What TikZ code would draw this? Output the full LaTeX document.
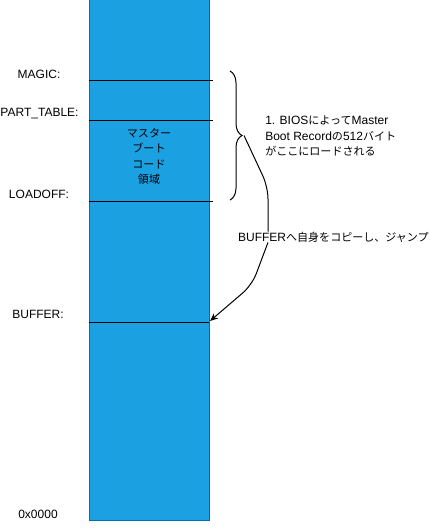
\documentclass[tikz,border=0pt]{standalone}
\usepackage{fontspec}
\setmainfont{Liberation Sans}
\newfontfamily\cjk[Scale=0.92]{Noto Sans CJK JP}
\newcommand{\ja}[1]{{\cjk #1}}
\usetikzlibrary{arrows.meta,decorations.pathreplacing}
\definecolor{mfill}{HTML}{1BA1E2}
\definecolor{mline}{HTML}{006EAF}

\begin{document}
\begin{tikzpicture}[
  x=0.75pt, y=-0.75pt,
  memory/.style={
    draw=mline,
    fill=mfill,
    line width=0.75pt,
    minimum width=90pt,
    minimum height=390pt,
    inner sep=0pt
  },
  addr/.style={font=\fontsize{9}{11}\selectfont, inner sep=0pt},
  boundary/.style={draw=black, line width=0.75pt},
  note/.style={font=\fontsize{9}{11.4}\selectfont, align=left, inner sep=0pt},
  flow/.style={draw=black, line width=0.75pt, rounded corners=9pt}
]
\useasboundingbox (0,0) rectangle (430,531);

% memory map
\node[memory] (mem) at (149,260) {};
\foreach \y/\xe in {81/213, 121/213, 201/213, 322/209}
  \draw[boundary] (89,\y) -- (\xe,\y);

\node[addr] (magic) at (39,74) {MAGIC:};
\node[addr] (parttable) at (39.5,114) {PART\_TABLE:};
\node[addr] (loadoff) at (39,194) {LOADOFF:};
\node[addr] (buffer) at (38,314) {BUFFER:};
\node[addr] (origin) at (38,514) {0x0000};

\node[note, align=center, font=\cjk\fontsize{9}{11.6}\selectfont] (mbr) at (149,156.5) {
  マスター\\ブート\\コード\\領域
};

% loaded region
\draw[decorate, decoration={brace, amplitude=9pt}, line width=0.75pt]
  (230,71) -- (230,200);
\coordinate (bracetip) at (244,135.5);

\node[note, anchor=west] (bios) at (265,136) {
  1. BIOS\ja{によって}Master\\
  Boot Record\ja{の}512\ja{バイト}\\
  \ja{がここにロードされる}
};

% copy and jump
\node[addr, anchor=east] (copy) at (429,237) {BUFFER\ja{へ自身をコピーし、ジャンプ}};
\coordinate (bend1) at (268,187);
\coordinate (bend2) at (252,285);
\coordinate (bufend) at (210,321);

\draw[flow] (bracetip) -- (bend1) -- (bend1 |- copy.north);
\draw[flow, -{Stealth[length=6pt, width=5pt]}]
  (bend1 |- copy.south) -- (bend2) -- (bufend);

\end{tikzpicture}
\end{document}
